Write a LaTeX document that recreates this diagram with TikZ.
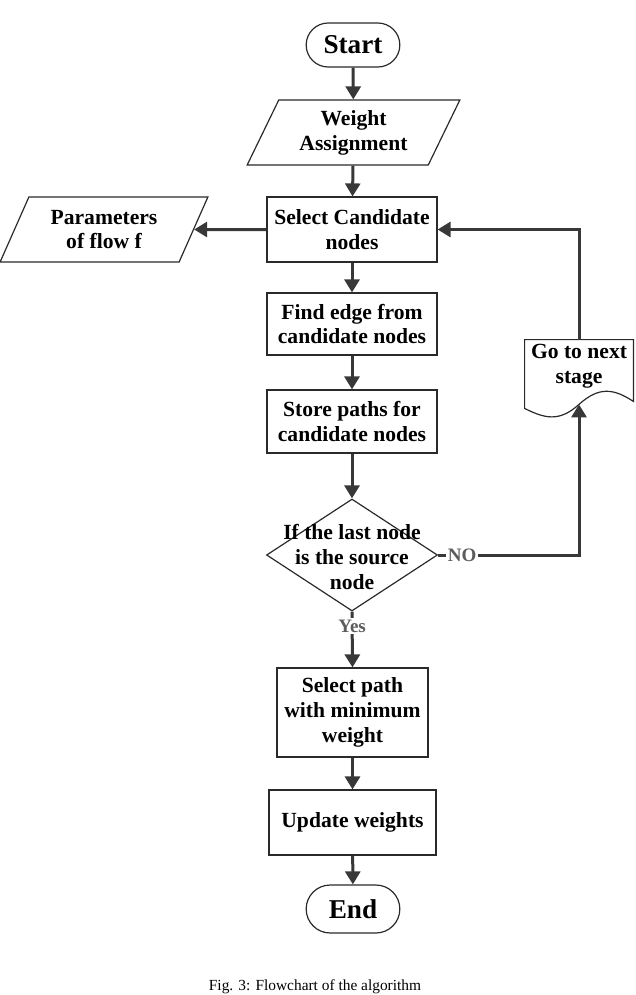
\documentclass[tikz,border=0pt]{standalone}
\usepackage{fontspec}
\setmainfont{Liberation Serif}
\usepackage{tikz}
\usetikzlibrary{arrows.meta,calc,shapes.geometric,shapes.misc}
\definecolor{flowgray}{HTML}{383838}
\definecolor{flowedge}{HTML}{2A2A2A}
\definecolor{answergray}{HTML}{5C5C5C}
\newcommand{\boxfont}{\fontsize{10.8}{12.4}\selectfont\bfseries}
\newcommand{\termfont}{\fontsize{13.6}{15}\selectfont\bfseries}
\tikzset{
  flowline/.style={-{Triangle[length=6.5pt,width=7.5pt]},line width=1.5pt,flowgray},
  boxnode/.style={rectangle,draw=flowedge,line width=0.6pt,align=center,font=\boxfont,inner sep=2pt},
  terminal/.style={rounded rectangle,draw=flowedge,line width=0.6pt,font=\termfont,minimum width=53.5pt},
  ionode/.style={trapezium,trapezium left angle=65,trapezium right angle=115,trapezium stretches=true,draw=flowedge,line width=0.6pt,align=center,font=\boxfont,inner sep=2pt},
  decision/.style={diamond,draw=flowedge,line width=0.6pt,minimum width=85.5pt,minimum height=56pt,inner sep=0pt},
  docnode/.style={rectangle,align=center,font=\boxfont,minimum width=54pt,minimum height=26pt,inner sep=2pt},
  docedge/.style={draw=flowedge,line width=0.6pt},
  answer/.style={fill=white,text=answergray,font=\fontsize{9.5}{11}\selectfont\bfseries,inner sep=1pt}
}

\begin{document}
\begin{tikzpicture}[x=0.5pt,y=-0.5pt]
\useasboundingbox (0,0) rectangle (636,995);
\node[terminal,minimum height=22pt] (start) at (353,45) {Start};
\node[ionode,minimum width=106.5pt,minimum height=32.5pt] (weight) at (353.5,132.5) {Weight\\Assignment};
\node[boxnode,minimum width=85pt,minimum height=32.5pt] (select) at (352,229.5) {Select Candidate\\nodes};
\node[ionode,minimum width=104pt,minimum height=32.5pt] (params) at (104,229.5) {Parameters\\of flow f};
\node[boxnode,minimum width=85pt,minimum height=31pt] (find) at (352,324) {Find edge from\\candidate nodes};
\node[boxnode,minimum width=85pt,minimum height=31.5pt] (store) at (352,421.5) {Store paths for\\candidate nodes};
\node[decision] (check) at (352,555) {};
\node[align=center,font=\boxfont,inner sep=0pt] (checktext) at (352,557) {If the last node\\is the source\\node};
\node[docnode] (next) at (579,366) {Go to next\\stage};
\coordinate (nextfoot) at ($(next.south)+(0,12)$);
\draw[docedge] (next.north west) -- (next.north east) -- ($(next.south east)+(0,9)$)
  .. controls ($(next.south east)+(-20,-4)$) and ($(next.south)+(20,-6)$) .. (nextfoot)
  .. controls ($(next.south)+(-20,30)$) and ($(next.south west)+(20,26)$) .. ($(next.south west)+(0,16)$) -- cycle;
\node[boxnode,minimum width=75.5pt,minimum height=44.5pt] (minpath) at (352.5,712.5) {Select path\\with minimum\\weight};
\node[boxnode,minimum width=83.5pt,minimum height=32.5pt] (update) at (352.5,822.5) {Update weights};
\node[terminal,minimum height=24pt] (end) at (353,909) {End};
\node[font=\fontsize{7.7}{9}\selectfont,anchor=base,inner sep=0pt] (caption) at (315,990) {Fig. 3: Flowchart of the algorithm};

\draw[flowline] (start) -- (weight);
\draw[flowline] (weight) -- (select);
\draw[flowline] (select) -- (params);
\draw[flowline] (select) -- (find);
\draw[flowline] (find) -- (store);
\draw[flowline] (store) -- (check);
\draw[flowline] (check.east) -| (nextfoot) node[answer,pos=0.085] {NO};
\draw[flowline] (next.north) |- (select.east);
\draw[flowline] (check.south) -- (minpath.north) node[answer,pos=0.26] {Yes};
\draw[flowline] (minpath) -- (update);
\draw[flowline] (update) -- (end);
\end{tikzpicture}
\end{document}
